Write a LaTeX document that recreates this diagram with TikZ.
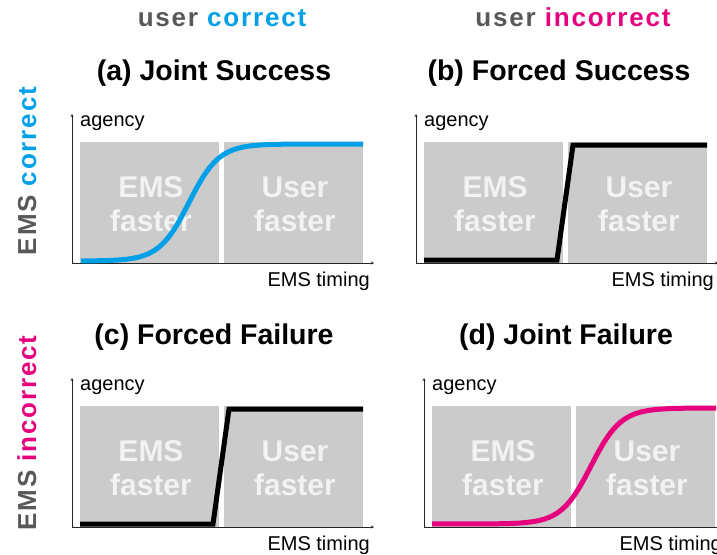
\documentclass[tikz,border=0pt]{standalone}
\usepackage{fontspec}
\setmainfont{Liberation Sans}
\newfontfamily\trackfont[LetterSpace=7]{Liberation Sans}
\usetikzlibrary{arrows.meta}
\definecolor{ublue}{RGB}{0,160,233}
\definecolor{upink}{RGB}{230,0,126}
\definecolor{hgray}{RGB}{88,88,88}
\definecolor{boxgray}{RGB}{203,203,203}
\definecolor{boxtext}{RGB}{242,242,242}
\tikzset{
  axis/.style={line width=1pt, black!85, {Stealth[length=3pt,width=3pt]}-{Stealth[length=3pt,width=3pt]}},
  graybox/.style={fill=boxgray, draw=none, inner sep=0pt, minimum width=139pt, minimum height=121pt},
  boxlabel/.style={anchor=base, inner sep=0pt, text=boxtext, font=\fontsize{30}{34}\selectfont\bfseries},
  axlabel/.style={inner sep=0pt, font=\fontsize{20}{24}\selectfont},
  title/.style={anchor=base, inner sep=0pt, font=\fontsize{28.5}{33}\selectfont\bfseries},
  header/.style={anchor=base, inner sep=0pt, font=\fontsize{26}{30}\trackfont\bfseries},
  curve/.style={line width=5pt, line join=miter},
}
\newcommand{\agencypanel}[1]{%
  \node[graybox] (#1-l) at (149.5,202.5) {};
  \node[graybox] (#1-r) at (293.5,202.5) {};
  \coordinate (#1-yt) at (72,114);
  \coordinate (#1-o) at (72,263);
  \coordinate (#1-xr) at (374,263);
  \draw[axis] (#1-yt) -- (#1-o) -- (#1-xr);
  \node[boxlabel] (#1-e1) at (151,197) {EMS};
  \node[boxlabel] (#1-e2) at (151,231) {faster};
  \node[boxlabel] (#1-u1) at (295,197) {User};
  \node[boxlabel] (#1-u2) at (295,231) {faster};
  \node[axlabel, anchor=base west] (#1-ag) at (80,126) {agency};
  \node[axlabel, anchor=base east] (#1-tm) at (370,286) {EMS timing};
}
\newcommand{\steppath}[1]{%
  \coordinate (#1-s0) at (80,260);
  \coordinate (#1-s1) at (213,260);
  \coordinate (#1-s2) at (229,145);
  \coordinate (#1-s3) at (363,145);
  \draw[curve, black] (#1-s0) -- (#1-s1) -- (#1-s2) -- (#1-s3);
}
\begin{document}
\begin{tikzpicture}[x=1pt,y=-1pt]
\useasboundingbox (0,0) rectangle (717,554);
% column headers
\node[header] (hc) at (222,27) {\textcolor{hgray}{user} \textcolor{ublue}{correct}};
\node[header] (hi) at (573,27) {\textcolor{hgray}{user} \textcolor{upink}{incorrect}};
% row headers
\node[header, rotate=90] (rc) at (36,171) {\textcolor{hgray}{EMS} \textcolor{ublue}{correct}};
\node[header, rotate=90] (ri) at (36,433) {\textcolor{hgray}{EMS} \textcolor{upink}{incorrect}};
% titles
\node[title] (ta) at (214,80) {(a) Joint Success};
\node[title] (tb) at (559,80) {(b) Forced Success};
\node[title] (tc) at (214,344) {(c) Forced Failure};
\node[title] (td) at (566,344) {(d) Joint Failure};
% (a)
\begin{scope}
  \agencypanel{a}
  \draw[curve, ublue] plot[domain=81:363, samples=120] (\x, {261-117/(1+exp(min(9,-(\x-189)/15)))});
\end{scope}
% (b)
\begin{scope}[shift={(344,0)}]
  \agencypanel{b}
  \steppath{b}
\end{scope}
% (c)
\begin{scope}[shift={(0,264)}]
  \agencypanel{c}
  \steppath{c}
\end{scope}
% (d)
\begin{scope}[shift={(352,264)}]
  \agencypanel{d}
  \draw[curve, upink] plot[domain=80:364, samples=120] (\x, {260-116/(1+exp(min(9,-(\x-239)/15)))});
\end{scope}
\end{tikzpicture}
\end{document}
